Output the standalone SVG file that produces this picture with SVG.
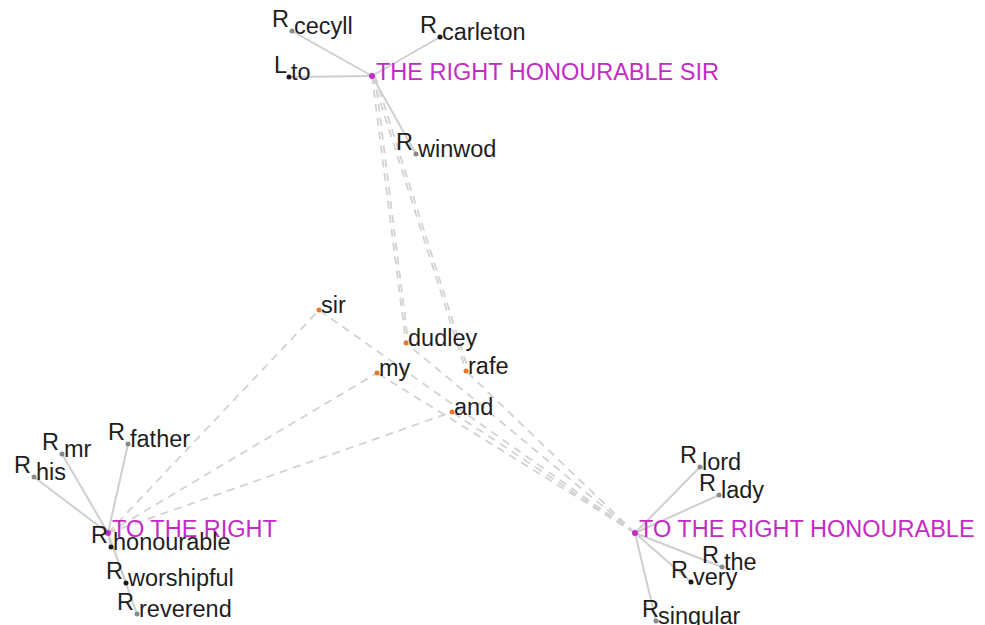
<svg xmlns="http://www.w3.org/2000/svg" width="985" height="625" viewBox="0 0 985 625">
<style>
text{font-family:"Liberation Sans",Arial,sans-serif;font-size:23.5px;fill:#1e1e1e}
.hub{fill:#c42bc4}
.pre{text-anchor:end}
.solid line{stroke:#cfcfcf;stroke-width:2}
.dash line{stroke:#d2d2d2;stroke-width:1.8;stroke-dasharray:8 6}
.g{fill:#8a8a8a}
.k{fill:#1a1a1a}
.o{fill:#e8792a}
.m{fill:#c42bc4}
</style>
<rect width="985" height="625" fill="#fff"/>
<g id="connectors">
<g class="dash">
<line x1="372" y1="76" x2="406" y2="343"/>
<line x1="375" y1="76" x2="408" y2="341"/>
<line x1="372" y1="76" x2="466" y2="371"/>
<line x1="375" y1="76" x2="468" y2="369"/>
<line x1="108" y1="533" x2="319" y2="310"/>
<line x1="108" y1="533" x2="377" y2="373"/>
<line x1="108" y1="533" x2="452" y2="412"/>
<line x1="635" y1="533" x2="319" y2="310"/>
<line x1="635" y1="533" x2="406" y2="343"/>
<line x1="635" y1="533" x2="377" y2="373"/>
<line x1="635" y1="533" x2="466" y2="371"/>
<line x1="635" y1="533" x2="452" y2="412"/>
</g>
<g class="solid">
<line x1="372" y1="76" x2="292" y2="31"/>
<line x1="372" y1="76" x2="440" y2="37"/>
<line x1="372" y1="76" x2="289" y2="77"/>
<line x1="372" y1="76" x2="416" y2="154"/>
<line x1="108" y1="533" x2="34" y2="477"/>
<line x1="108" y1="533" x2="62" y2="454"/>
<line x1="108" y1="533" x2="128" y2="444"/>
<line x1="108" y1="533" x2="111" y2="547"/>
<line x1="108" y1="533" x2="126" y2="583"/>
<line x1="108" y1="533" x2="137" y2="614"/>
<line x1="635" y1="533" x2="700" y2="467"/>
<line x1="635" y1="533" x2="719" y2="495"/>
<line x1="635" y1="533" x2="722" y2="567"/>
<line x1="635" y1="533" x2="691" y2="582"/>
<line x1="635" y1="533" x2="656" y2="621"/>
</g>
</g>
<g id="hub-top"><circle class="m" cx="372" cy="76" r="3"/><text class="hub" x="376" y="80">THE RIGHT HONOURABLE SIR</text></g>
<g id="hub-left"><circle class="m" cx="108" cy="533" r="3"/><text class="hub" x="112" y="537">TO THE RIGHT</text></g>
<g id="hub-right"><circle class="m" cx="635" cy="533" r="3"/><text class="hub" x="639" y="537">TO THE RIGHT HONOURABLE</text></g>

<g id="n-cecyll"><circle class="g" cx="292" cy="31" r="2.5"/><text class="pre" x="289" y="27">R</text><text x="294" y="34">cecyll</text></g>
<g id="n-carleton"><circle class="k" cx="440" cy="37" r="2.5"/><text class="pre" x="437" y="33">R</text><text x="442" y="40">carleton</text></g>
<g id="n-to"><circle class="k" cx="289" cy="77" r="2.5"/><text class="pre" x="287" y="73">L</text><text x="291" y="80">to</text></g>
<g id="n-winwod"><circle class="g" cx="416" cy="154" r="2.5"/><text class="pre" x="413" y="150">R</text><text x="418" y="157">winwod</text></g>

<g id="n-his"><circle class="g" cx="34" cy="477" r="2.5"/><text class="pre" x="31" y="473">R</text><text x="36" y="480">his</text></g>
<g id="n-mr"><circle class="g" cx="62" cy="454" r="2.5"/><text class="pre" x="59" y="450">R</text><text x="64" y="457">mr</text></g>
<g id="n-father"><circle class="g" cx="128" cy="444" r="2.5"/><text class="pre" x="125" y="440">R</text><text x="130" y="447">father</text></g>
<g id="n-honourable"><circle class="k" cx="111" cy="547" r="2.5"/><text class="pre" x="108" y="543">R</text><text x="113" y="550">honourable</text></g>
<g id="n-worshipful"><circle class="k" cx="126" cy="583" r="2.5"/><text class="pre" x="123" y="579">R</text><text x="128" y="586">worshipful</text></g>
<g id="n-reverend"><circle class="g" cx="137" cy="614" r="2.5"/><text class="pre" x="134" y="610">R</text><text x="139" y="617">reverend</text></g>

<g id="n-lord"><circle class="g" cx="700" cy="467" r="2.5"/><text class="pre" x="697" y="463">R</text><text x="702" y="470">lord</text></g>
<g id="n-lady"><circle class="g" cx="719" cy="495" r="2.5"/><text class="pre" x="716" y="491">R</text><text x="721" y="498">lady</text></g>
<g id="n-the"><circle class="g" cx="722" cy="567" r="2.5"/><text class="pre" x="719" y="563">R</text><text x="724" y="570">the</text></g>
<g id="n-very"><circle class="k" cx="691" cy="582" r="2.5"/><text class="pre" x="688" y="578">R</text><text x="693" y="585">very</text></g>
<g id="n-singular"><circle class="g" cx="656" cy="621" r="2.5"/><text class="pre" x="659" y="617">R</text><text x="658" y="624">singular</text></g>

<g id="n-sir"><circle class="o" cx="319" cy="310" r="2.5"/><text x="321" y="313">sir</text></g>
<g id="n-dudley"><circle class="o" cx="406" cy="343" r="2.5"/><text x="408" y="346">dudley</text></g>
<g id="n-my"><circle class="o" cx="377" cy="373" r="2.5"/><text x="379" y="376">my</text></g>
<g id="n-rafe"><circle class="o" cx="466" cy="371" r="2.5"/><text x="468" y="374">rafe</text></g>
<g id="n-and"><circle class="o" cx="452" cy="412" r="2.5"/><text x="454" y="415">and</text></g>
</svg>
